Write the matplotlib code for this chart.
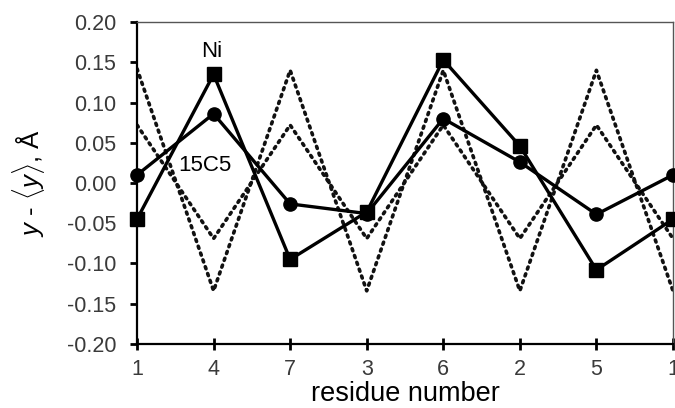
import matplotlib

matplotlib.use("Agg")
import matplotlib.pyplot as plt
import numpy as np

plt.rcParams["font.family"] = ["Liberation Sans", "DejaVu Sans"]
plt.rcParams["mathtext.fontset"] = "custom"
plt.rcParams["mathtext.it"] = "Liberation Sans:italic"
plt.rcParams["mathtext.rm"] = "Liberation Sans"

residues = ["1", "4", "7", "3", "6", "2", "5", "1"]
ni = [-0.045, 0.135, -0.095, -0.036, 0.153, 0.046, -0.108, -0.045]
crown = [0.010, 0.086, -0.026, -0.038, 0.080, 0.026, -0.039, 0.010]
helix_big = [0.142, -0.134, 0.140, -0.134, 0.140, -0.134, 0.140, -0.134]
helix_small = [0.072, -0.069, 0.072, -0.069, 0.072, -0.069, 0.072, -0.069]
yticks = [-0.20, -0.15, -0.10, -0.05, 0.00, 0.05, 0.10, 0.15, 0.20]

x = np.arange(len(residues))

fig = plt.figure(figsize=(6.75, 4.08), dpi=100)
ax = fig.add_axes([0.203, 0.157, 0.794, 0.789])

dot_style = dict(color="#111111", lw=2.6, ls=(0, (0.6, 1.4)),
                 dash_capstyle="round", solid_capstyle="round")
ax.plot(x, helix_big, **dot_style, zorder=2)
ax.plot(x, helix_small, **dot_style, zorder=2)

ax.plot(x, crown, color="black", lw=2.4, marker="o", ms=9.5, zorder=3,
        clip_on=False)
ax.plot(x, ni, color="black", lw=2.4, marker="s", ms=10, zorder=4,
        clip_on=False)

ax.text(0.97, 0.164, "Ni", fontsize=16, ha="center", va="center")
ax.text(0.89, 0.022, "15C5", fontsize=16, ha="center", va="center",
        bbox=dict(facecolor="white", edgecolor="none", pad=0.3), zorder=3.5)

ax.set_xlim(0, len(residues) - 1)
ax.set_ylim(-0.20, 0.20)
ax.set_xticks(x)
ax.set_xticklabels(residues)
ax.set_yticks(yticks)
ax.set_yticklabels([f"{v:.2f}" for v in yticks])

ax.tick_params(axis="both", direction="out", length=5, width=2,
               labelsize=15.5, labelcolor="#3a3a3a")
ax.tick_params(axis="y", pad=10)
ax.tick_params(axis="x", direction="inout", length=9, pad=6)
for side in ["left", "bottom"]:
    ax.spines[side].set_linewidth(1.6)
for side in ["top", "right"]:
    ax.spines[side].set_linewidth(1.0)
    ax.spines[side].set_color("#555555")

ax.set_xlabel("residue number", fontsize=19.5, labelpad=1)
ax.set_ylabel(r"$y$ - $\langle y\rangle$, Å", fontsize=18.5, labelpad=14)

fig.savefig("out.png", dpi=100)
